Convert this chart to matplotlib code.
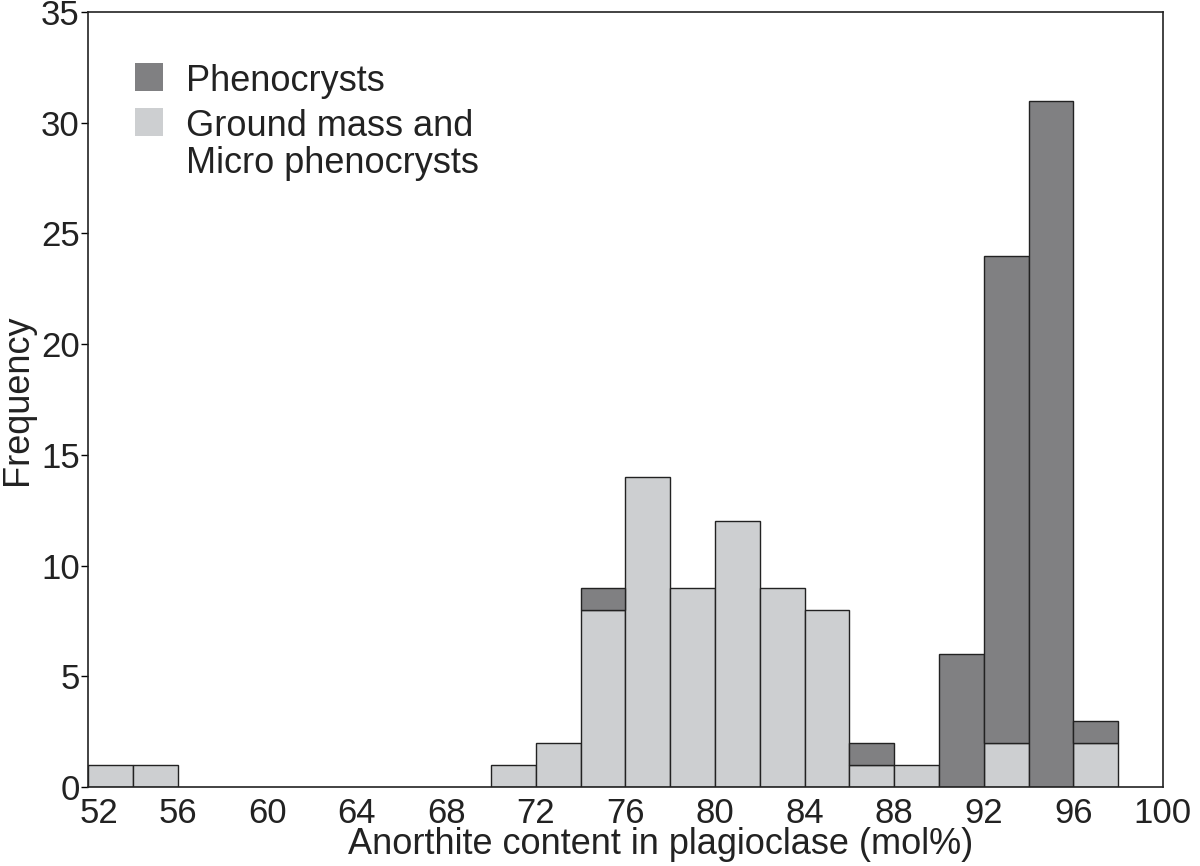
import matplotlib.pyplot as plt
from matplotlib.patches import Rectangle
from matplotlib.transforms import ScaledTranslation
import numpy as np

plt.rcParams['font.family'] = ['Liberation Sans', 'DejaVu Sans']

# bin left edges (width 2 mol%)
bin_edges = np.arange(52, 100, 2)
ground_mass = [1, 1, 0, 0, 0, 0, 0, 0, 0, 1, 2, 8, 14, 9, 12, 9, 8, 1, 1, 0, 2, 0, 2, 0]
phenocrysts = [0, 0, 0, 0, 0, 0, 0, 0, 0, 0, 0, 1, 0, 0, 0, 0, 0, 1, 0, 6, 22, 31, 1, 0]
x_ticks = list(range(52, 101, 4))
y_ticks = list(range(0, 36, 5))

dark = '#808082'
light = '#cdcfd1'

fig = plt.figure(figsize=(12, 8.66), dpi=100)
ax = fig.add_axes([0.0733, 0.0912, 0.8958, 0.8949])

ground = np.array(ground_mass)
pheno = np.array(phenocrysts)
x = bin_edges.astype(float)
mask_g = ground > 0
mask_p = pheno > 0
ax.bar(x[mask_g], ground[mask_g], width=2, align='edge', color=light,
       edgecolor='#222222', linewidth=1.0)
ax.bar(x[mask_p], pheno[mask_p], width=2, align='edge', bottom=ground[mask_p],
       color=dark, edgecolor='#222222', linewidth=1.0)

ax.set_xlim(52, 100)
ax.set_ylim(0, 35)
ax.set_xticks(x_ticks)
ax.set_yticks(y_ticks)
ax.tick_params(axis='x', length=0, pad=7, labelsize=25, labelcolor='#222222')
ax.tick_params(axis='y', length=5, width=1.0, pad=1, labelsize=25,
               direction='out', labelcolor='#222222')
for s in ax.spines.values():
    s.set_linewidth(1.2)
    s.set_color('#222222')

# first x label sits a little to the right of its tick, clear of the "0"
first = ax.get_xticklabels()[0]
first.set_transform(first.get_transform() + ScaledTranslation(8 / 72, 0, fig.dpi_scale_trans))

ax.set_xlabel('Anorthite content in plagioclase (mol%)', fontsize=26,
              labelpad=0, color='#222222')
ax.xaxis.set_label_coords(0.533, -0.052)
ax.set_ylabel('Frequency', fontsize=26, labelpad=4, color='#222222')

# legend
ax.add_patch(Rectangle((0.0437, 0.898), 0.026, 0.0361, transform=ax.transAxes,
                       facecolor=dark, edgecolor='none'))
ax.add_patch(Rectangle((0.0437, 0.840), 0.026, 0.0361, transform=ax.transAxes,
                       facecolor=light, edgecolor='none'))
ax.text(0.0912, 0.898, 'Phenocrysts', transform=ax.transAxes, fontsize=26,
        va='baseline', ha='left', color='#222222')
ax.text(0.0912, 0.840, 'Ground mass and', transform=ax.transAxes, fontsize=26,
        va='baseline', ha='left', color='#222222')
ax.text(0.0912, 0.792, 'Micro phenocrysts', transform=ax.transAxes, fontsize=26,
        va='baseline', ha='left', color='#222222')

fig.savefig('out.png', dpi=100)
